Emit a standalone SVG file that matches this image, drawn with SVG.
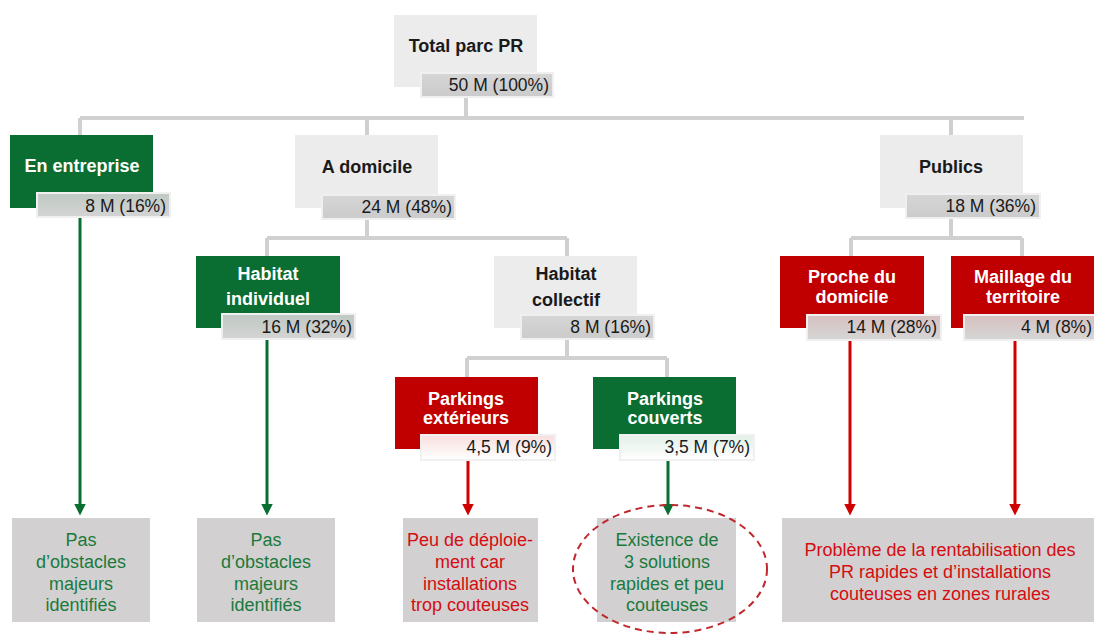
<svg xmlns="http://www.w3.org/2000/svg" width="1094" height="635" viewBox="0 0 1094 635">
<defs>
<style>
.t{font-family:"Liberation Sans",Arial,sans-serif;font-weight:bold;font-size:18px;text-anchor:middle}
.tw{fill:#ffffff}
.tk{fill:#1a1a1a}
.v{font-family:"Liberation Sans",Arial,sans-serif;font-size:17.5px;fill:#1a1a1a;text-anchor:end}
.b{font-family:"Liberation Sans",Arial,sans-serif;font-size:18px;text-anchor:middle}
.bg{fill:#1a7a3c}
.br{fill:#d40d12}
.gray{fill:#ececec}
.green{fill:#0a6e32}
.red{fill:#c00000}
.bar{stroke:#f0f0f0;stroke-width:2}
.bot{fill:#d2d0d1}
.ln{fill:none;stroke:#d0d0d0;stroke-width:4}
.ag{stroke:#0a6e32;stroke-width:3;fill:none}
.ar{stroke:#d00000;stroke-width:3;fill:none}
</style>
<linearGradient id="gBar" x1="0" y1="0" x2="0" y2="1"><stop offset="0" stop-color="#d6d6d6"/><stop offset="1" stop-color="#cbcbcb"/></linearGradient>
<linearGradient id="gGreen" x1="0" y1="0" x2="0" y2="1"><stop offset="0" stop-color="#bfc9c3"/><stop offset="1" stop-color="#d4d4d4"/></linearGradient>
<linearGradient id="gRed" x1="0" y1="0" x2="0" y2="1"><stop offset="0" stop-color="#d7c0c0"/><stop offset="1" stop-color="#d6d6d6"/></linearGradient>
<linearGradient id="gPink" x1="0" y1="0" x2="0" y2="1"><stop offset="0" stop-color="#f8dede"/><stop offset="1" stop-color="#ffffff"/></linearGradient>
<linearGradient id="gMint" x1="0" y1="0" x2="0" y2="1"><stop offset="0" stop-color="#e2efe7"/><stop offset="1" stop-color="#ffffff"/></linearGradient>
<marker id="mg" markerWidth="4" markerHeight="4" refX="2.5" refY="2" orient="auto" markerUnits="strokeWidth"><path d="M0,0 L4,2 L0,4 Z" fill="#0a6e32"/></marker>
<marker id="mr" markerWidth="4" markerHeight="4" refX="2.5" refY="2" orient="auto" markerUnits="strokeWidth"><path d="M0,0 L4,2 L0,4 Z" fill="#d00000"/></marker>
</defs>
<rect width="1094" height="635" fill="#ffffff"/>

<g id="connectors">
<path class="ln" d="M466,97 V118 M80,118 H1024 M80,118 V135 M367,118 V135 M951,118 V135"/>
<path class="ln" d="M367,219 V238 M267,238 H567 M267,238 V256 M567,238 V256"/>
<path class="ln" d="M567,339 V358 M467,358 H667 M467,358 V377 M667,358 V377"/>
<path class="ln" d="M951,218 V238 M851,238 H1022 M851,238 V256 M1022,238 V256"/>
<line class="ag" x1="80" y1="217" x2="80" y2="511" marker-end="url(#mg)"/>
<line class="ag" x1="267" y1="339" x2="267" y2="511" marker-end="url(#mg)"/>
<line class="ar" x1="468" y1="461" x2="468" y2="511" marker-end="url(#mr)"/>
<line class="ag" x1="668" y1="461" x2="668" y2="511" marker-end="url(#mg)"/>
<line class="ar" x1="850" y1="340" x2="850" y2="511" marker-end="url(#mr)"/>
<line class="ar" x1="1015" y1="340" x2="1015" y2="511" marker-end="url(#mr)"/>
</g>

<g id="total">
<rect class="gray" x="394" y="15" width="143" height="72"/>
<text class="t tk" x="466" y="52">Total parc PR</text>
<rect class="bar" x="421" y="73" width="132" height="24" fill="url(#gBar)"/>
<text class="v" x="549" y="91">50 M (100%)</text>
</g>

<g id="entreprise">
<rect class="green" x="10" y="135" width="143" height="73"/>
<text class="t tw" x="82" y="172">En entreprise</text>
<rect class="bar" x="37" y="193" width="133" height="24" fill="url(#gGreen)"/>
<text class="v" x="166" y="212">8 M (16%)</text>
</g>

<g id="domicile">
<rect class="gray" x="295" y="135" width="143" height="73"/>
<text class="t tk" x="367" y="173">A domicile</text>
<rect class="bar" x="322" y="195" width="133" height="24" fill="url(#gBar)"/>
<text class="v" x="452" y="213">24 M (48%)</text>
</g>

<g id="publics">
<rect class="gray" x="880" y="135" width="143" height="73"/>
<text class="t tk" x="951" y="173">Publics</text>
<rect class="bar" x="906" y="194" width="134" height="24" fill="url(#gBar)"/>
<text class="v" x="1036" y="212">18 M (36%)</text>
</g>

<g id="individuel">
<rect class="green" x="196" y="256" width="144" height="72"/>
<text class="t tw" x="268" y="280">Habitat</text>
<text class="t tw" x="268" y="305">individuel</text>
<rect class="bar" x="222" y="314" width="133" height="25" fill="url(#gGreen)"/>
<text class="v" x="352" y="333">16 M (32%)</text>
</g>

<g id="collectif">
<rect class="gray" x="494" y="256" width="143" height="72"/>
<text class="t tk" x="566" y="280">Habitat</text>
<text class="t tk" x="566" y="306">collectif</text>
<rect class="bar" x="521" y="315" width="133" height="24" fill="url(#gBar)"/>
<text class="v" x="651" y="333">8 M (16%)</text>
</g>

<g id="proche">
<rect class="red" x="780" y="256" width="144" height="72"/>
<text class="t tw" x="852" y="283">Proche du</text>
<text class="t tw" x="852" y="303">domicile</text>
<rect class="bar" x="807" y="315" width="134" height="25" fill="url(#gRed)"/>
<text class="v" x="937" y="333">14 M (28%)</text>
</g>

<g id="maillage">
<rect class="red" x="951" y="256" width="143" height="72"/>
<text class="t tw" x="1023" y="283">Maillage du</text>
<text class="t tw" x="1023" y="303">territoire</text>
<rect class="bar" x="964" y="315" width="131" height="25" fill="url(#gRed)"/>
<text class="v" x="1092" y="333">4 M (8%)</text>
</g>

<g id="exterieurs">
<rect class="red" x="395" y="377" width="143" height="72"/>
<text class="t tw" x="466" y="405">Parkings</text>
<text class="t tw" x="466" y="424">extérieurs</text>
<rect class="bar" x="421" y="435" width="134" height="25" fill="url(#gPink)"/>
<text class="v" x="552" y="453">4,5 M (9%)</text>
</g>

<g id="couverts">
<rect class="green" x="593" y="377" width="143" height="72"/>
<text class="t tw" x="665" y="405">Parkings</text>
<text class="t tw" x="665" y="424">couverts</text>
<rect class="bar" x="620" y="435" width="134" height="25" fill="url(#gMint)"/>
<text class="v" x="750" y="453">3,5 M (7%)</text>
</g>

<g id="res1">
<rect class="bot" x="12" y="518" width="138" height="104"/>
<text class="b bg" x="81" y="546">Pas</text>
<text class="b bg" x="81" y="568">d’obstacles</text>
<text class="b bg" x="81" y="590">majeurs</text>
<text class="b bg" x="81" y="611">identifiés</text>
</g>

<g id="res2">
<rect class="bot" x="197" y="518" width="138" height="104"/>
<text class="b bg" x="266" y="546">Pas</text>
<text class="b bg" x="266" y="568">d’obstacles</text>
<text class="b bg" x="266" y="590">majeurs</text>
<text class="b bg" x="266" y="611">identifiés</text>
</g>

<g id="res3">
<rect class="bot" x="403" y="518" width="135" height="104"/>
<text class="b br" x="470" y="546">Peu de déploie-</text>
<text class="b br" x="470" y="568">ment car</text>
<text class="b br" x="470" y="590">installations</text>
<text class="b br" x="470" y="611">trop couteuses</text>
</g>

<g id="res4">
<rect class="bot" x="597" y="518" width="139" height="104"/>
<text class="b bg" x="667" y="546">Existence de</text>
<text class="b bg" x="667" y="568">3 solutions</text>
<text class="b bg" x="667" y="590">rapides et peu</text>
<text class="b bg" x="667" y="611">couteuses</text>
<ellipse cx="670" cy="569" rx="97" ry="64" fill="none" stroke="#c0282d" stroke-width="2" stroke-dasharray="7,5"/>
</g>

<g id="res5">
<rect class="bot" x="782" y="518" width="312" height="104"/>
<text class="b br" x="940" y="556">Problème de la rentabilisation des</text>
<text class="b br" x="940" y="578">PR rapides et d’installations</text>
<text class="b br" x="940" y="600">couteuses en zones rurales</text>
</g>
</svg>
